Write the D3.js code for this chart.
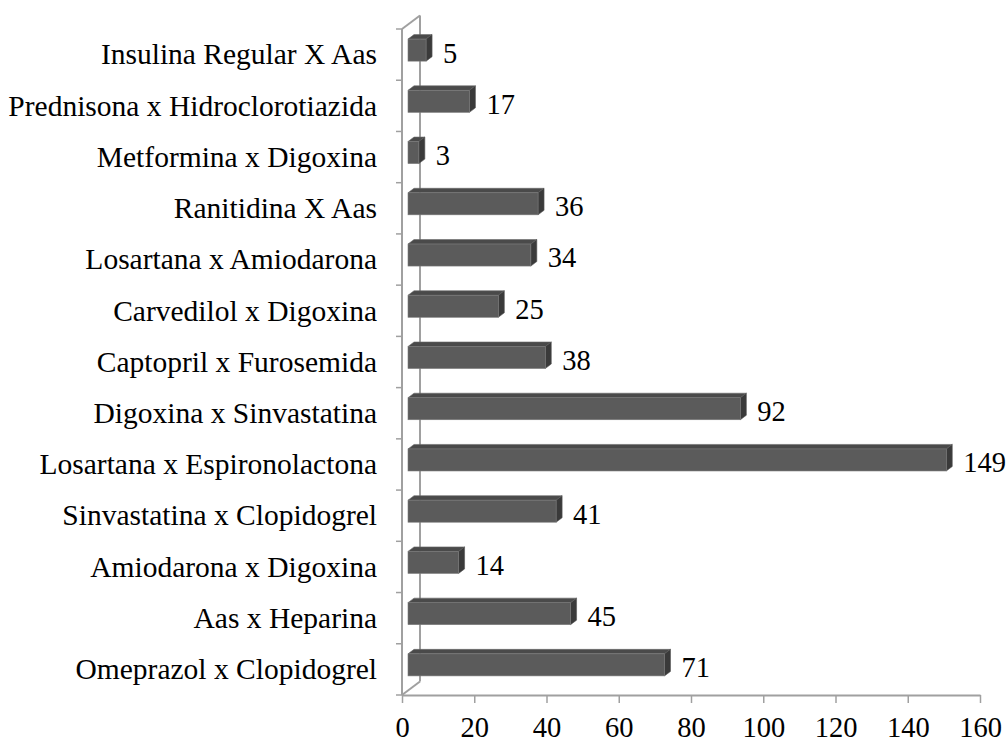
<!DOCTYPE html>
<html><head><meta charset="utf-8">
<script src="https://cdn.jsdelivr.net/npm/d3@7"></script>
<style>html,body{margin:0;padding:0;background:#fff;}svg{display:block;}</style>
</head><body>
<svg id="chart" width="1006" height="742"></svg>
<script>
const categories = [
  "Insulina Regular X Aas",
  "Prednisona x Hidroclorotiazida",
  "Metformina x Digoxina",
  "Ranitidina X Aas",
  "Losartana x Amiodarona",
  "Carvedilol x Digoxina",
  "Captopril x Furosemida",
  "Digoxina x Sinvastatina",
  "Losartana x Espironolactona",
  "Sinvastatina x Clopidogrel",
  "Amiodarona x Digoxina",
  "Aas x Heparina",
  "Omeprazol x Clopidogrel"
];
const values = [5, 17, 3, 36, 34, 25, 38, 92, 149, 41, 14, 45, 71];
const xTicks = [0, 20, 40, 60, 80, 100, 120, 140, 160];

(function () {
const svg = d3.select("#chart");
const font = "'Liberation Serif','Times New Roman',serif";
const fs = 29.5, fsNum = 28.5;
const pL = 402, pR = 980, pT = 29, pB = 695;
const depthX = 18, depthY = -13.5;
const axisColor = "#a0a0a0";

const x = d3.scaleLinear().domain([0, 160]).range([pL, pR]);
const y = d3.scaleBand().domain(categories).range([pT, pB]).padding(0);
const bw = y.bandwidth();
const barH = bw * 0.43;

// back wall / floor lines
const g = svg.append("g");
g.append("line").attr("x1", pL + depthX).attr("y1", pT + depthY)
  .attr("x2", pL + depthX).attr("y2", pB + depthY)
  .attr("stroke", axisColor).attr("stroke-width", 2);
g.append("line").attr("x1", pL).attr("y1", pT)
  .attr("x2", pL + depthX).attr("y2", pT + depthY)
  .attr("stroke", axisColor).attr("stroke-width", 2);
g.append("line").attr("x1", pL).attr("y1", pB)
  .attr("x2", pL + depthX).attr("y2", pB + depthY)
  .attr("stroke", axisColor).attr("stroke-width", 2);

// bars
const d1 = 1/3, d2 = 2/3;
const bars = svg.append("g").selectAll("g").data(categories).join("g");
bars.each(function(c, i) {
  const v = values[i];
  const sel = d3.select(this);
  const cy = y(c) + bw / 2;
  const fx0 = x(0) + d1 * depthX, fx1 = x(v) + d1 * depthX;
  const fy0 = cy - barH / 2 + d1 * depthY, fy1 = cy + barH / 2 + d1 * depthY;
  const ox = (d2 - d1) * depthX, oy = (d2 - d1) * depthY;
  sel.append("path")
    .attr("d", `M${fx0},${fy0}L${fx0+ox},${fy0+oy}L${fx1+ox},${fy0+oy}L${fx1},${fy0}Z`)
    .attr("fill", "#4a4a4a").attr("stroke", "#6a6a6a").attr("stroke-width", 0.6);
  sel.append("path")
    .attr("d", `M${fx1},${fy0}L${fx1+ox},${fy0+oy}L${fx1+ox},${fy1+oy}L${fx1},${fy1}Z`)
    .attr("fill", "#3a3a3a").attr("stroke", "#555").attr("stroke-width", 0.6);
  sel.append("rect")
    .attr("x", fx0).attr("y", fy0).attr("width", fx1 - fx0).attr("height", fy1 - fy0)
    .attr("fill", "#5b5b5b").attr("stroke", "#7a7a7a").attr("stroke-width", 0.6);
  sel.append("text")
    .attr("x", fx1 + ox + 11).attr("y", cy - 1.5 + fsNum * 0.33)
    .attr("font-family", font).attr("font-size", fsNum).attr("fill", "#000")
    .text(v);
});

// front vertical axis
const ax = svg.append("g");
ax.append("line").attr("x1", pL).attr("y1", pT).attr("x2", pL).attr("y2", pB)
  .attr("stroke", axisColor).attr("stroke-width", 2);
const bounds = categories.map(c => y(c)).concat([pB]);
ax.selectAll("line.yt").data(bounds).join("line").attr("class", "yt")
  .attr("x1", pL - 6).attr("x2", pL).attr("y1", d => d).attr("y2", d => d)
  .attr("stroke", axisColor).attr("stroke-width", 1.5);
ax.selectAll("text.yl").data(categories).join("text").attr("class", "yl")
  .attr("x", 377).attr("y", c => y(c) + bw / 2 + fs * 0.33)
  .attr("text-anchor", "end")
  .attr("font-family", font).attr("font-size", fs).attr("fill", "#000")
  .text(c => c);

// bottom axis
const xAxis = d3.axisBottom(x).tickValues(xTicks).tickSize(8).tickSizeOuter(0).tickPadding(14);
const xg = svg.append("g").attr("transform", `translate(0,${pB})`).call(xAxis);
xg.select(".domain").attr("stroke", axisColor).attr("stroke-width", 2);
xg.selectAll(".tick line").attr("stroke", axisColor).attr("stroke-width", 1.5);
xg.selectAll(".tick text").attr("font-family", font).attr("font-size", fsNum).attr("fill", "#000");
})();
</script>
</body></html>
